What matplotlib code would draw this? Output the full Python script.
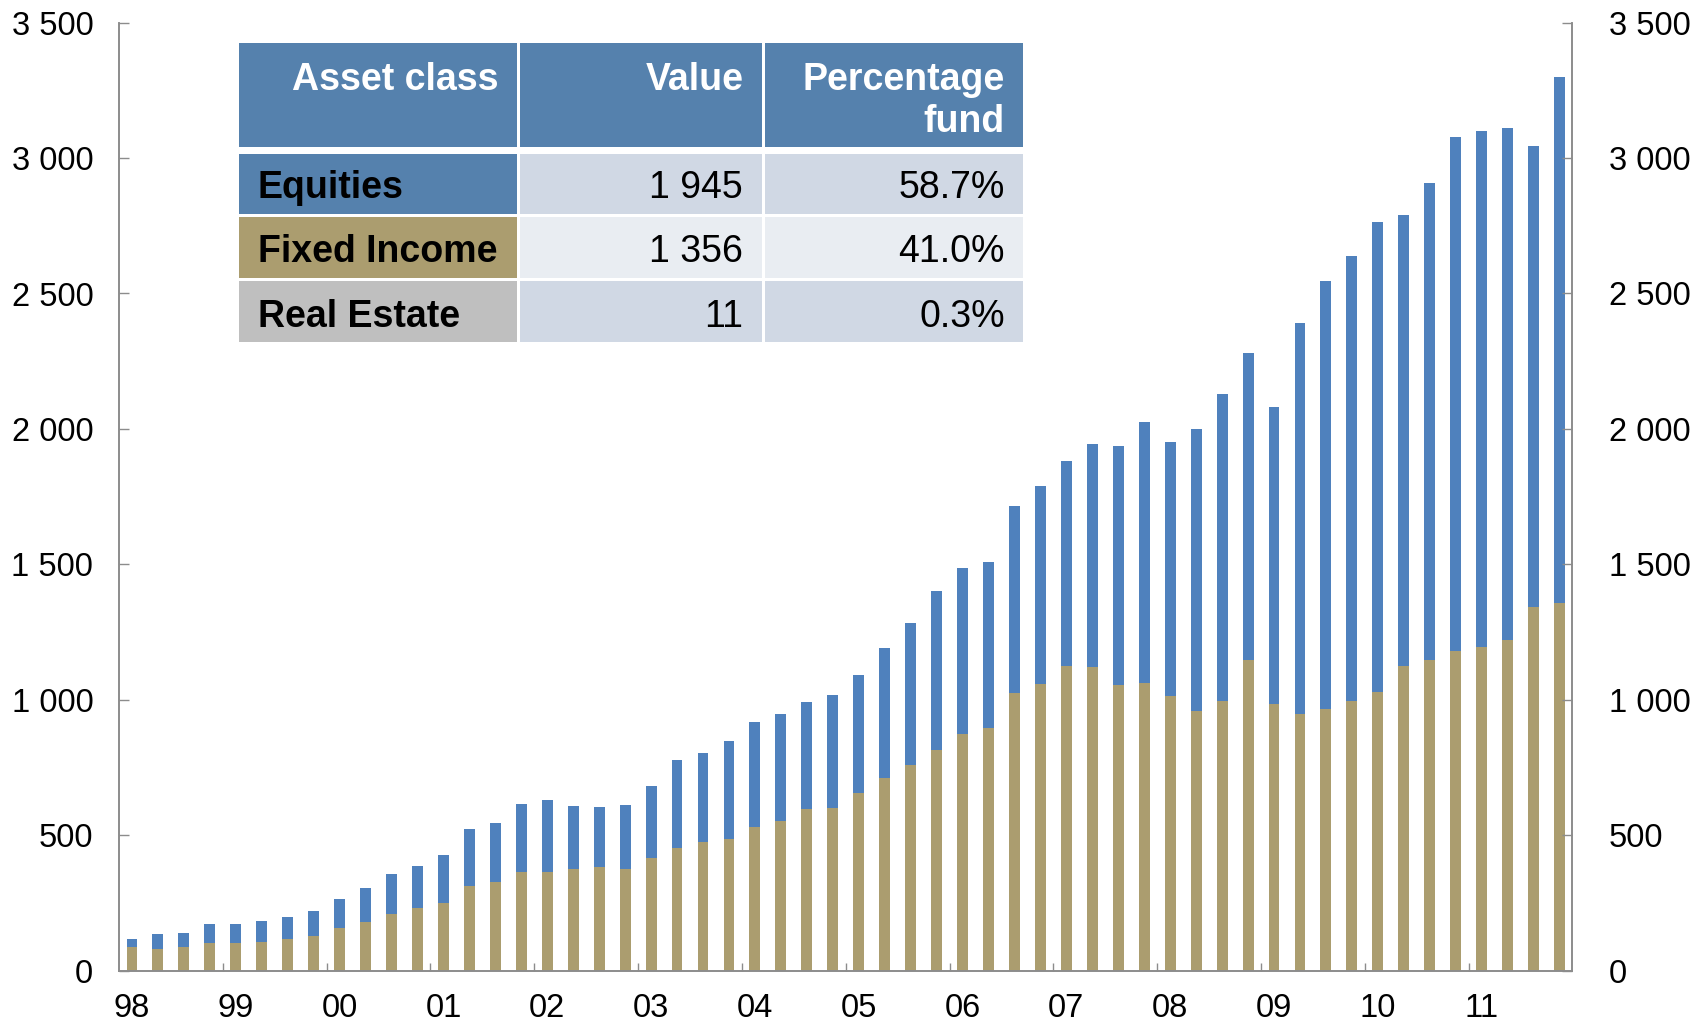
import matplotlib
matplotlib.use('Agg')
import matplotlib.pyplot as plt
import numpy as np
from matplotlib.patches import Rectangle

plt.rcParams['font.family'] = ['Liberation Sans', 'DejaVu Sans']

# quarterly market value, 1998 Q1 .. 2011 Q4
fixed_income = [85, 78, 85, 101, 101, 106, 118, 126, 158, 178, 210, 232,
                251, 312, 328, 365, 365, 373, 384, 376, 417, 453, 473, 485,
                530, 551, 596, 599, 655, 711, 759, 816, 875, 894, 1024, 1058,
                1125, 1121, 1054, 1061, 1013, 959, 996, 1145, 983, 946, 966, 995,
                1030, 1126, 1147, 1181, 1193, 1222, 1342, 1356]
equities = [33, 56, 52, 70, 70, 77, 81, 93, 106, 127, 147, 153,
            175, 210, 218, 250, 263, 234, 219, 234, 266, 323, 332, 361,
            388, 396, 395, 420, 437, 479, 526, 586, 610, 615, 690, 731,
            757, 824, 884, 966, 937, 1039, 1132, 1136, 1099, 1444, 1580, 1645,
            1734, 1665, 1761, 1897, 1906, 1888, 1704, 1945]
year_labels = ['98', '99', '00', '01', '02', '03', '04',
               '05', '06', '07', '08', '09', '10', '11']
y_ticks = [0, 500, 1000, 1500, 2000, 2500, 3000, 3500]

# inset table
table_header = [['Asset class'], ['Value'], ['Percentage', 'fund']]
asset_classes = ['Equities', 'Fixed Income', 'Real Estate']
asset_values = ['1 945', '1 356', '11']
asset_pcts = ['58.7%', '41.0%', '0.3%']

BLUE, TAN, GREY = '#4f81bd', '#ab9d6f', '#bfbfbf'
HEAD = '#5581ad'
CELL_A, CELL_B = '#d0d8e4', '#e9edf2'
AXIS = '#8c8c8c'

W, H = 1698, 1022
fig = plt.figure(figsize=(W / 100, H / 100), dpi=100)
ax = fig.add_axes([119 / W, 1 - 970.5 / H, (1572.5 - 119) / W, (970.5 - 22.7) / H])

x = np.arange(len(equities))
ax.bar(x, fixed_income, width=0.42, color=TAN, zorder=2)
ax.bar(x, equities, bottom=fixed_income, width=0.42, color=BLUE, zorder=2)
ax.set_xlim(-0.5, len(equities) - 0.5)
ax.set_ylim(0, 3500)

ax.set_xticks(np.arange(0, len(equities), 4))
ax.set_xticklabels(year_labels)
ax.set_xticks(np.arange(3.5, len(equities) - 1, 4), minor=True)
ax.tick_params(axis='x', which='major', length=0, pad=16, labelsize=23.5)
ax.tick_params(axis='x', which='minor', direction='in', length=6,
               width=1, color=AXIS)

tick_text = [f'{v:,}'.replace(',', ' ') for v in y_ticks]
ax.set_yticks(y_ticks)
ax.set_yticklabels(tick_text)
ax.tick_params(axis='y', direction='in', length=7, width=1, color=AXIS,
               pad=18.5, labelsize=23.5)

ax2 = ax.twinx()
ax2.set_ylim(0, 3500)
ax2.set_yticks(y_ticks)
ax2.set_yticklabels(tick_text)
ax2.tick_params(axis='y', direction='in', length=7, width=1, color=AXIS,
                pad=26, labelsize=23.5)

for a in (ax, ax2):
    a.spines['top'].set_visible(False)
    for s in ('left', 'right', 'bottom'):
        a.spines[s].set_color(AXIS)
        a.spines[s].set_linewidth(1.2)


def px(xp, yp):
    return xp / W, 1 - yp / H


def cell(x0, x1, y0, y1, color):
    fig.patches.append(Rectangle(px(x0, y1), (x1 - x0) / W, (y1 - y0) / H,
                                 transform=fig.transFigure, color=color,
                                 zorder=5, lw=0))


# table geometry in pixels
cols = [(239, 517), (520, 762), (765, 1023)]
rows = [(154, 214), (217, 278), (281, 342)]
row_base = [197.5, 261.5, 326.5]
head = (43, 147)
head_base = [89.5, 132.5]
fs = 27

for (c0, c1), lines in zip(cols, table_header):
    cell(c0, c1, head[0], head[1], HEAD)
    for line, yb in zip(lines, head_base):
        fig.text(*px(c1 - 18, yb), line, ha='right', va='baseline',
                 color='white', fontsize=fs, fontweight='bold', zorder=6)

label_colors = [HEAD, TAN, GREY]
body_colors = [CELL_A, CELL_B, CELL_A]
for (r0, r1), yb, name, val, pct, lc, bc in zip(rows, row_base, asset_classes,
                                                asset_values, asset_pcts,
                                                label_colors, body_colors):
    cell(cols[0][0], cols[0][1], r0, r1, lc)
    cell(cols[1][0], cols[1][1], r0, r1, bc)
    cell(cols[2][0], cols[2][1], r0, r1, bc)
    fig.text(*px(cols[0][0] + 19, yb), name, ha='left', va='baseline',
             fontsize=fs, fontweight='bold', color='black', zorder=6)
    fig.text(*px(cols[1][1] - 19, yb), val, ha='right', va='baseline',
             fontsize=fs, color='black', zorder=6)
    fig.text(*px(cols[2][1] - 18, yb), pct, ha='right', va='baseline',
             fontsize=fs, color='black', zorder=6)

fig.savefig('out.png', dpi=100)
